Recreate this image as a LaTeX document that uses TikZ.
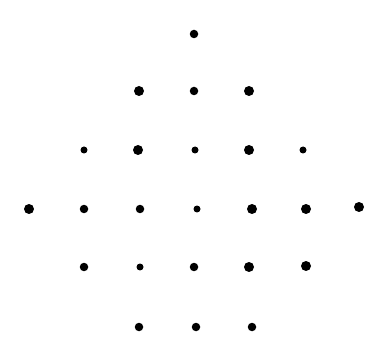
\documentclass[tikz,border=0pt]{standalone}
\begin{document}
\begin{tikzpicture}[
  x=0.02cm, y=-0.02cm,
  dot/.style={circle, fill=black, inner sep=0pt, minimum size=0.17cm},
  bigdot/.style={dot, minimum size=0.2cm},
  smalldot/.style={dot, minimum size=0.14cm}
]
  \useasboundingbox (0,0) rectangle (365,351);

  \node[dot]      (r1c4) at (194, 34) {};

  \node[bigdot]   (r2c3) at (139, 91) {};
  \node[dot]      (r2c4) at (194, 91) {};
  \node[bigdot]   (r2c5) at (249, 91) {};

  \node[smalldot] (r3c2) at (84, 150) {};
  \node[bigdot]   (r3c3) at (138,150) {};
  \node[smalldot] (r3c4) at (195,150) {};
  \node[bigdot]   (r3c5) at (249,150) {};
  \node[smalldot] (r3c6) at (303,150) {};

  \node[bigdot]   (r4c1) at (29, 209) {};
  \node[dot]      (r4c2) at (84, 209) {};
  \node[dot]      (r4c3) at (140,209) {};
  \node[smalldot] (r4c4) at (197,209) {};
  \node[bigdot]   (r4c5) at (252,209) {};
  \node[bigdot]   (r4c6) at (306,209) {};
  \node[bigdot]   (r4c7) at (359,207) {};

  \node[dot]      (r5c2) at (84, 267) {};
  \node[smalldot] (r5c3) at (140,267) {};
  \node[dot]      (r5c4) at (194,267) {};
  \node[bigdot]   (r5c5) at (249,267) {};
  \node[bigdot]   (r5c6) at (306,266) {};

  \node[dot]      (r6c3) at (139,327) {};
  \node[dot]      (r6c4) at (196,327) {};
  \node[dot]      (r6c5) at (252,327) {};
\end{tikzpicture}
\end{document}
